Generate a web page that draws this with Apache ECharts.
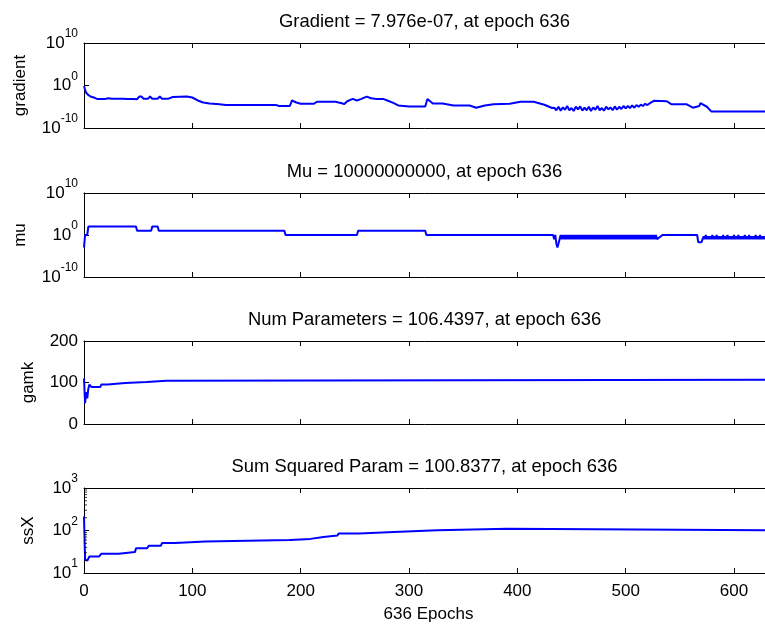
<!DOCTYPE html>
<html>
<head>
<meta charset="utf-8">
<script src="https://cdn.jsdelivr.net/npm/echarts@6/dist/echarts.min.js"></script>
<style>
html, body { margin: 0; padding: 0; background: #ffffff; }
#chart { width: 765px; height: 624px; }
</style>
</head>
<body>
<div id="chart"></div>
<script>
// Training record of a Levenberg-Marquardt / Bayesian regularisation run, 636 epochs.
const epochCount = 636;

// Gradient per epoch: breakpoints, a noisy stretch sampled every 2 epochs, then the tail.
const gradientHead = [
  [0, 0.8], [1, 0.1], [2, 0.02], [4, 0.006], [6, 0.0025], [9, 0.0015], [12, 0.0007], [20, 0.0007],
  [22, 0.001], [26, 0.0008], [36, 0.0008], [40, 0.00065], [46, 0.00065], [49, 0.0006], [51, 0.0025],
  [53, 0.0025], [55, 0.0008], [59, 0.0008], [61, 0.0025], [63, 0.0008], [68, 0.0008], [70, 0.0025],
  [72, 0.0008], [78, 0.0008], [82, 0.002], [95, 0.0025], [100, 0.0015], [105, 0.0003], [110, 0.0001],
  [116, 0.00006], [125, 0.00004], [131, 0.000027], [177, 0.000027], [180, 0.000015], [190, 0.000015],
  [192, 0.0003], [196, 0.0001], [200, 0.00005], [212, 0.00005], [215, 0.00015], [232, 0.00015],
  [238, 0.00007], [240, 0.00004], [243, 0.0002], [248, 0.0007], [252, 0.0003], [256, 0.0007],
  [261, 0.0025], [265, 0.001], [270, 0.0007], [276, 0.0007], [280, 0.0003], [286, 0.00007],
  [290, 0.00002], [300, 0.000011], [315, 0.000011], [317, 0.0007], [322, 0.00006], [331, 0.00006],
  [341, 0.00002], [356, 0.00002], [362, 0.000006], [370, 0.00002], [378, 0.00004], [393, 0.00005],
  [403, 0.00015], [415, 0.00015], [425, 0.00003], [432, 0.000005]
];
const gradientNoiseStart = 434;
const gradientNoiseStep = 2;
const gradientNoise = [
  6e-6, 1.5e-6, 1e-5, 1.2e-6, 7e-6, 2e-6, 1.5e-5, 1.5e-6, 5e-6, 1e-6, 1e-5, 2.5e-6, 1.2e-5, 1.2e-6,
  6e-6, 1.5e-6, 1e-5, 1e-6, 7e-6, 2e-6, 1.5e-5, 1.5e-6, 5e-6, 1.2e-6, 1e-5, 2.5e-6, 7e-6, 1.5e-6,
  1.2e-5, 2e-6, 1e-5, 3e-6, 1.5e-5, 4e-6, 1.5e-5, 5e-6, 2e-5, 6e-6, 2.5e-5, 1e-5, 3e-5, 1.5e-5,
  5e-5, 2.5e-5, 6e-5
];
const gradientTail = [
  [526, 0.00025], [538, 0.0002], [542, 0.00004], [556, 0.00004], [562, 0.000006], [568, 0.000015],
  [569, 0.00007], [575, 0.00001], [579, 8e-7], [636, 7.976e-7]
];

// Mu per epoch: steps, two stretches that flip every epoch, and the final value.
const muHead = [
  [0, 0.001], [1, 1], [3, 1], [4, 100], [48, 100], [49, 10], [62, 10], [63, 100], [68, 100],
  [69, 10], [185, 10], [186, 1], [252, 1], [253, 10], [315, 10], [316, 1], [433, 1]
];
const muBand1Start = 434;
const muBand1 = [
  0.1, 1, 0.01, 0.001, 0.01, 0.1, 1,
  0.1, 1, 0.1, 1, 0.1, 1, 0.1, 1, 0.1, 1, 0.1, 1, 0.1, 1, 0.1, 1, 0.1, 1, 0.1, 1, 0.1, 1,
  0.1, 1, 0.1, 1, 0.1, 1, 0.1, 1, 0.1, 1, 0.1, 1, 0.1, 1, 0.1, 1, 0.1, 1, 0.1, 1, 0.1, 1,
  0.1, 1, 0.1, 1, 0.1, 1, 0.1, 1, 0.1, 1, 0.1, 1, 0.1, 1, 0.1, 1, 0.1, 1, 0.1, 1, 0.1, 1,
  0.1, 1, 0.1, 1, 0.1, 1, 0.1, 1, 0.1, 1, 0.1, 1, 0.1, 1, 0.1, 1, 0.1, 1, 0.1, 1, 0.1, 1,
  0.1
];
const muMiddle = [[534, 1], [566, 1], [567, 0.02], [570, 0.02]];
const muBand2Start = 571;
const muBand2 = [
  0.1, 0.5, 0.1, 1, 0.1, 0.5, 0.1, 0.5, 0.1, 1,
  0.1, 0.5, 0.1, 1, 0.1, 0.5, 0.1, 0.5, 0.1, 1,
  0.1, 0.5, 0.1, 1, 0.1, 0.5, 0.1, 0.5, 0.1, 1,
  0.1, 0.5, 0.1, 1, 0.1, 0.5, 0.1, 0.5, 0.1, 1,
  0.1, 0.5, 0.1, 1, 0.1, 0.5, 0.1, 0.5, 0.1, 1,
  0.1, 0.5, 0.1, 1, 0.1, 0.5, 0.1, 0.5, 0.1, 1,
  0.1, 0.5, 0.1, 1, 0.1
];
const muFinal = [[636, 1e10]];

// Effective number of parameters.
const gamkPoints = [
  [0, 110], [1, 50], [2, 77], [3, 62], [4, 85], [5, 95], [7, 89], [15, 89], [16, 95], [22, 95],
  [23, 99], [38, 99], [39, 101], [58, 101], [59, 104], [76, 104], [77, 106.44], [636, 106.4397]
];

// Sum of squared weights.
const ssXPoints = [
  [0, 215], [1, 20.5], [3, 19.5], [5, 24.5], [14, 24.5], [16, 28.5], [32, 28.5], [33, 31], [47, 31],
  [48, 38], [58, 38], [60, 44], [71, 44], [72, 50.5], [84, 50.5], [85, 55], [112, 55], [113, 59.5],
  [190, 59.5], [191, 63.5], [209, 63.5], [210, 70], [221, 70], [222, 76], [234, 76], [235, 85.5],
  [254, 85.5], [255, 92], [286, 92], [287, 100.8], [326, 100.8], [327, 110], [391, 110],
  [392, 100.84], [636, 100.8377]
];
const ssXMinorTicks = [20, 30, 40, 50, 60, 70, 80, 90, 200, 300, 400, 500, 600, 700, 800, 900];

const panelTitles = [
  'Gradient = 7.976e-07, at epoch 636',
  'Mu = 10000000000, at epoch 636',
  'Num Parameters = 106.4397, at epoch 636',
  'Sum Squared Param = 100.8377, at epoch 636'
];
const panelYNames = ['gradient', 'mu', 'gamk', 'ssX'];
const xAxisName = '636 Epochs';

const gradientData = gradientHead
  .concat(gradientNoise.map((v, i) => [gradientNoiseStart + gradientNoiseStep * i, v]))
  .concat(gradientTail);
const muData = muHead
  .concat(muBand1.map((v, i) => [muBand1Start + i, v]))
  .concat(muMiddle)
  .concat(muBand2.map((v, i) => [muBand2Start + i, v]))
  .concat(muFinal);

const FONT = '"Liberation Sans", Arial, Helvetica, sans-serif';
const INK = '#000000';
const BLUE = '#0000ff';

// The plot boxes run a little past the right edge of the canvas.
const gridBase = { left: 84, width: 689, outerBoundsMode: 'none', containLabel: false };
const grids = [
  Object.assign({ top: 43, height: 85 }, gridBase),
  Object.assign({ top: 193, height: 84 }, gridBase),
  Object.assign({ top: 341, height: 83 }, gridBase),
  Object.assign({ top: 488, height: 85 }, gridBase)
];
const titleCenters = [22, 172, 320, 467];
const plotCenterX = 84 + 689 / 2;

function xAxisFor(gridIndex, position, withLabels) {
  const ax = {
    type: 'value', gridIndex, position, min: 0, max: epochCount, interval: 100,
    axisLine: { show: true, onZero: false, lineStyle: { color: INK, width: 1 } },
    axisTick: { show: true, inside: true, length: 5, lineStyle: { color: INK, width: 1 } },
    splitLine: { show: false },
    axisLabel: { show: withLabels, showMaxLabel: false, margin: 10, color: INK, fontFamily: FONT, fontSize: 17 }
  };
  if (withLabels) {
    ax.name = xAxisName;
    ax.nameLocation = 'middle';
    ax.nameGap = 33;
    ax.nameTextStyle = { color: INK, fontFamily: FONT, fontSize: 17 };
  }
  return ax;
}

const powerLabel = {
  formatter: v => '{b|10}{s|' + Math.round(Math.log10(v)) + '}',
  rich: {
    b: { fontFamily: FONT, fontSize: 17, color: INK },
    s: { fontFamily: FONT, fontSize: 12, color: INK, padding: [0, 0, 18, 0] }
  }
};

function yAxisFor(gridIndex, cfg) {
  return Object.assign({
    gridIndex, position: 'left',
    name: panelYNames[gridIndex], nameLocation: 'middle', nameGap: cfg.nameGap,
    nameTextStyle: { color: INK, fontFamily: FONT, fontSize: 17 },
    axisLine: { show: true, lineStyle: { color: INK, width: 1 } },
    axisTick: { show: true, inside: true, length: 5, lineStyle: { color: INK, width: 1 } },
    splitLine: { show: false }
  }, cfg.axis);
}

const yAxes = [
  yAxisFor(0, { nameGap: 55, axis: { type: 'log', logBase: 10, min: 1e-10, max: 1e10, interval: 10,
    axisLabel: Object.assign({ margin: 6 }, powerLabel) } }),
  yAxisFor(1, { nameGap: 55, axis: { type: 'log', logBase: 10, min: 1e-10, max: 1e10, interval: 10,
    axisLabel: Object.assign({ margin: 6 }, powerLabel) } }),
  yAxisFor(2, { nameGap: 47, axis: { type: 'value', min: 0, max: 200, interval: 100,
    axisLabel: { margin: 6, color: INK, fontFamily: FONT, fontSize: 17 } } }),
  yAxisFor(3, { nameGap: 47, axis: { type: 'log', logBase: 10, min: 10, max: 1000, interval: 1,
    axisLabel: Object.assign({ margin: 6 }, powerLabel) } })
];

const xAxes = [];
for (let g = 0; g < 4; g++) {
  xAxes.push(xAxisFor(g, 'bottom', g === 3));
  xAxes.push(xAxisFor(g, 'top', false));
}

function lineSeries(g, data) {
  return {
    type: 'line', xAxisIndex: g * 2, yAxisIndex: g, data,
    symbol: 'none', showSymbol: false, silent: true,
    lineStyle: { color: BLUE, width: 2 },
    emphasis: { disabled: true }
  };
}

const option = {
  animation: false,
  backgroundColor: '#ffffff',
  title: panelTitles.map((t, i) => ({
    text: t, left: plotCenterX - 4, top: titleCenters[i] - 10, textAlign: 'center', padding: 0,
    textStyle: { color: INK, fontFamily: FONT, fontSize: 18.4, fontWeight: 'normal', lineHeight: 20 }
  })),
  grid: grids,
  xAxis: xAxes,
  yAxis: yAxes,
  series: [
    lineSeries(0, gradientData),
    lineSeries(1, muData),
    lineSeries(2, gamkPoints),
    lineSeries(3, ssXPoints),
    {
      type: 'scatter', xAxisIndex: 6, yAxisIndex: 3, silent: true, clip: false,
      data: ssXMinorTicks.map(v => [0, v]),
      symbol: 'rect', symbolSize: [3, 1], symbolOffset: [1.5, 0],
      itemStyle: { color: INK }, z: 5
    }
  ]
};

const chart = echarts.init(document.getElementById('chart'), null, { renderer: 'canvas' });
chart.setOption(option);
</script>
</body>
</html>
